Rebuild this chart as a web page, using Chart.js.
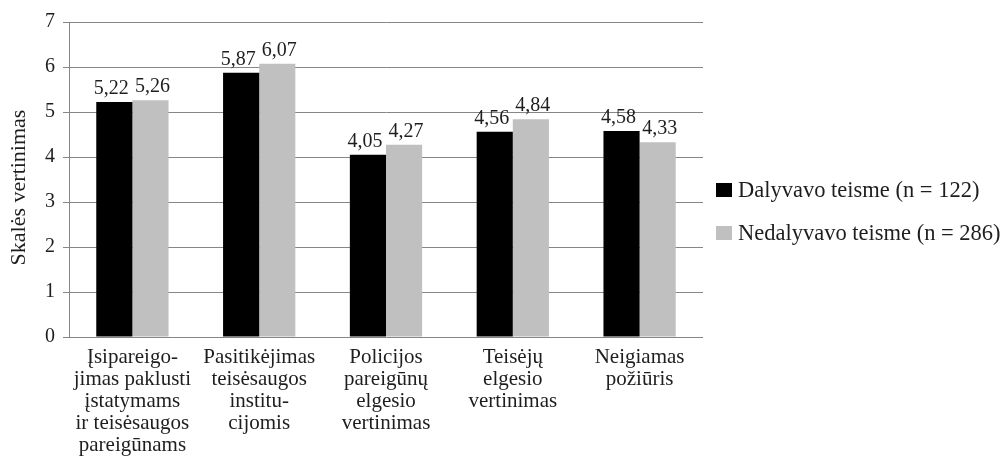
<!DOCTYPE html>
<html lang="lt">
<head>
<meta charset="utf-8">
<title>Skalės vertinimas</title>
<script src="https://cdn.jsdelivr.net/npm/chart.js@4/dist/chart.umd.min.js"></script>
<style>
  html, body { margin: 0; padding: 0; background: #fff; }
  #wrap { width: 1005px; height: 458px; }
</style>
</head>
<body>
<div id="wrap"><canvas id="c" width="1005" height="458"></canvas></div>
<script>
// Categories (multi-line axis labels)
const categories = [
  ['Įsipareigo-', 'jimas paklusti', 'įstatymams', 'ir teisėsaugos', 'pareigūnams'],
  ['Pasitikėjimas', 'teisėsaugos', 'institu-', 'cijomis'],
  ['Policijos', 'pareigūnų', 'elgesio', 'vertinimas'],
  ['Teisėjų', 'elgesio', 'vertinimas'],
  ['Neigiamas', 'požiūris']
];
const seriesNames = ['Dalyvavo teisme (n = 122)', 'Nedalyvavo teisme (n = 286)'];
const dalyvavo = [5.22, 5.87, 4.05, 4.56, 4.58];
const nedalyvavo = [5.26, 6.07, 4.27, 4.84, 4.33];
const yTicks = [0, 1, 2, 3, 4, 5, 6, 7];
const axisTitle = 'Skalės vertinimas';

const FONT = '"Liberation Serif", "Times New Roman", serif';
const TEXT = '#1e1e1e';
const GRID = '#868686';

const fmt = v => v.toFixed(2).replace('.', ',');

// Value labels above each bar; the two series' labels are spread apart slightly
const valueLabels = {
  id: 'valueLabels',
  afterDatasetsDraw(chart) {
    const ctx = chart.ctx;
    const spread = [-3, 2];
    ctx.save();
    ctx.font = '20px ' + FONT;
    ctx.fillStyle = TEXT;
    ctx.textAlign = 'center';
    ctx.textBaseline = 'alphabetic';
    chart.data.datasets.forEach((ds, i) => {
      chart.getDatasetMeta(i).data.forEach((el, j) => {
        ctx.fillText(fmt(ds.data[j]), el.x + spread[i], el.y - 8);
      });
    });
    ctx.restore();
  }
};

// Rotated y-axis title
const yTitle = {
  id: 'yTitle',
  afterDraw(chart) {
    const ctx = chart.ctx;
    ctx.save();
    ctx.font = '22px ' + FONT;
    ctx.fillStyle = TEXT;
    ctx.textAlign = 'center';
    ctx.textBaseline = 'middle';
    ctx.translate(19, chart.chartArea.top + chart.chartArea.height / 2 + 8);
    ctx.rotate(-Math.PI / 2);
    ctx.fillText(axisTitle, 0, 0);
    ctx.restore();
  }
};

// Legend on the right, square swatches
const sideLegend = {
  id: 'sideLegend',
  afterDraw(chart) {
    const ctx = chart.ctx;
    const x0 = chart.chartArea.right + 13;
    const yc = [190, 233];
    ctx.save();
    ctx.font = '22.5px ' + FONT;
    ctx.textBaseline = 'middle';
    ctx.textAlign = 'left';
    chart.data.datasets.forEach((ds, i) => {
      ctx.fillStyle = ds.backgroundColor;
      ctx.fillRect(x0, yc[i] - 7, 16, 14);
      ctx.fillStyle = TEXT;
      ctx.fillText(ds.label, x0 + 22, yc[i] + 1);
    });
    ctx.restore();
  }
};

new Chart(document.getElementById('c'), {
  type: 'bar',
  data: {
    labels: categories,
    datasets: [
      { label: seriesNames[0], data: dalyvavo, backgroundColor: '#000000' },
      { label: seriesNames[1], data: nedalyvavo, backgroundColor: '#c0c0c0' }
    ]
  },
  options: {
    responsive: false,
    animation: false,
    events: [],
    layout: { padding: { top: 22, right: 302, bottom: 0, left: 0 } },
    datasets: { bar: { categoryPercentage: 0.57, barPercentage: 1.0 } },
    plugins: { legend: { display: false }, tooltip: { enabled: false } },
    scales: {
      x: {
        grid: { display: false, drawTicks: false },
        border: { display: false },
        ticks: {
          font: { family: FONT, size: 21, lineHeight: 1.05 },
          color: TEXT,
          padding: 9,
          maxRotation: 0,
          autoSkip: false
        },
        afterFit(scale) { scale.height = 121; }
      },
      y: {
        min: 0,
        max: 7,
        afterBuildTicks(scale) { scale.ticks = yTicks.map(v => ({ value: v })); },
        grid: { color: GRID, lineWidth: 1, tickLength: 6, drawTicks: true },
        border: { display: true, color: GRID, width: 1 },
        ticks: {
          font: { family: FONT, size: 20 },
          color: TEXT,
          padding: 8
        },
        title: { display: false },
        afterFit(scale) { scale.width = 69; }
      }
    }
  },
  plugins: [valueLabels, yTitle, sideLegend]
});
</script>
</body>
</html>
